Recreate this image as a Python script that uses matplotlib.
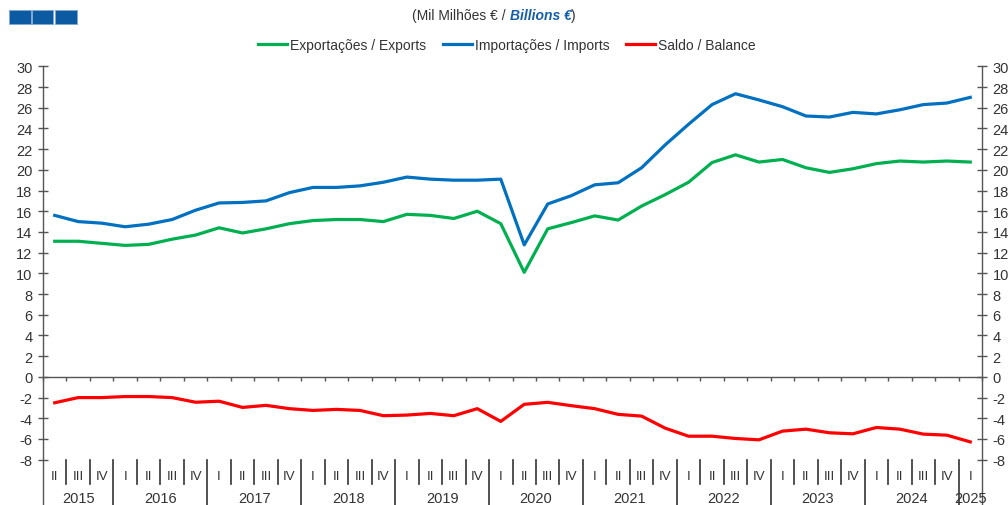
import numpy as np
import matplotlib
matplotlib.use("Agg")
import matplotlib.pyplot as plt
from matplotlib.lines import Line2D
from matplotlib.patches import Rectangle

plt.rcParams["font.family"] = ["Liberation Sans", "DejaVu Sans"]
plt.rcParams["axes.unicode_minus"] = False

# ── data ───────────────────────────────────────────────────────
QUARTERS = ["II", "III", "IV"] + ["I", "II", "III", "IV"] * 9 + ["I"]
YEARS = [str(y) for y in range(2015, 2026)]

exports = [13.1, 13.1, 12.9, 12.7, 12.8, 13.3, 13.7, 14.4, 13.9, 14.3,
           14.8, 15.1, 15.2, 15.2, 15.0, 15.7, 15.6, 15.3, 16.0, 14.8,
           10.1, 14.3, 14.9, 15.55, 15.15, 16.5, 17.6, 18.8, 20.7, 21.45,
           20.75, 21.0, 20.2, 19.75, 20.1, 20.6, 20.85, 20.75, 20.85, 20.75]
imports = [15.6, 15.0, 14.85, 14.5, 14.75, 15.2, 16.1, 16.8, 16.85, 17.0,
           17.8, 18.3, 18.3, 18.45, 18.8, 19.3, 19.1, 19.0, 19.0, 19.1,
           12.75, 16.7, 17.5, 18.55, 18.75, 20.2, 22.4, 24.4, 26.3, 27.35,
           26.75, 26.1, 25.2, 25.1, 25.55, 25.4, 25.8, 26.3, 26.45, 27.0]
balance = [-2.5, -2.0, -2.0, -1.9, -1.9, -2.0, -2.45, -2.35, -2.95, -2.75,
           -3.07, -3.24, -3.14, -3.24, -3.75, -3.69, -3.53, -3.75, -3.07, -4.3,
           -2.65, -2.46, -2.78, -3.07, -3.62, -3.79, -4.95, -5.73, -5.73, -5.95,
           -6.08, -5.24, -5.05, -5.4, -5.5, -4.89, -5.05, -5.53, -5.63, -6.28]

SERIES = [("Exportações / Exports", exports, "#00B050"),
          ("Importações / Imports", imports, "#0070C0"),
          ("Saldo / Balance", balance, "#FF0000")]

AXIS_C = "#555555"
TEXT_C = "#333333"

# ── figure ─────────────────────────────────────────────────────
W, H = 1008, 506
fig = plt.figure(figsize=(W / 100, H / 100), dpi=100)
fig.patch.set_facecolor("white")

ax_l, ax_r, ax_top, ax_bot = 43, 982, 67.3, 460.7
ax = fig.add_axes([ax_l / W, 1 - ax_bot / H, (ax_r - ax_l) / W, (ax_bot - ax_top) / H])

x = np.arange(len(QUARTERS))
for label, vals, col in SERIES:
    ax.plot(x, vals, color=col, lw=2.3, label=label)

ax.set_xlim(-0.5, len(QUARTERS) - 0.5)
ax.set_ylim(-8, 30)

ax.spines["top"].set_visible(False)
ax.spines["bottom"].set_position(("data", 0))
for s in ("bottom", "left", "right"):
    ax.spines[s].set_color(AXIS_C)
    ax.spines[s].set_linewidth(1.0)

ax.set_xticks(np.arange(-0.5, len(QUARTERS), 1))
ax.tick_params(axis="x", direction="out", length=3, width=1.0, color=AXIS_C,
               labelbottom=False)
ax.set_yticks(np.arange(-8, 31, 2))
ax.tick_params(axis="y", left=True, right=True, labelleft=True, labelright=True,
               direction="inout", length=7, width=1.0, color=AXIS_C,
               labelsize=10.5, labelcolor=TEXT_C, pad=4)

# ── quarter / year labels under the axes ───────────────────────
tr = ax.get_xaxis_transform()
h = ax_bot - ax_top
y_q_sep = -(485 - ax_bot) / h
y_bottom = -(H + 2 - ax_bot) / h
y_q_lab = -(477.5 - ax_bot) / h
y_y_lab = -(499 - ax_bot) / h

for xe in (-0.5, len(QUARTERS) - 0.5):
    ax.plot([xe, xe], [0, y_bottom], transform=tr, clip_on=False, color=AXIS_C, lw=1.0)

for i in range(len(QUARTERS) - 1):
    yb = y_bottom if QUARTERS[i + 1] == "I" else y_q_sep
    ax.plot([i + 0.5, i + 0.5], [0, yb], transform=tr, clip_on=False,
            color=TEXT_C, lw=1.2)

for i, q in enumerate(QUARTERS):
    ax.text(i, y_q_lab, q, transform=tr, ha="center", va="center",
            fontsize=9.5, color=TEXT_C)

start = 0
spans = []
for i, q in enumerate(QUARTERS):
    if q == "I" and i > 0:
        spans.append((start, i - 1))
        start = i
spans.append((start, len(QUARTERS) - 1))
for yr, (a, b) in zip(YEARS, spans):
    ax.text((a + b) / 2, y_y_lab, yr, transform=tr, ha="center", va="center",
            fontsize=10.5, color=TEXT_C)

# ── header ─────────────────────────────────────────────────────
for x0 in (9.3, 31.7, 55.0):
    fig.patches.append(Rectangle((x0 / W, 1 - 25 / H), 21.5 / W, 14 / H,
                                 transform=fig.transFigure, facecolor="#0B5AA2",
                                 edgecolor="#7fa8d4", lw=0.6))

renderer = fig.canvas.get_renderer()
parts = [("(Mil Milhões € / ", dict(color=TEXT_C)),
         ("Billions €", dict(color="#1560A8", fontweight="bold", fontstyle="italic")),
         (")", dict(color=TEXT_C))]
texts = [fig.text(0, 1 - 15.7 / H, s, fontsize=10, va="center", ha="left", **kw)
         for s, kw in parts]
widths = [t.get_window_extent(renderer).width for t in texts]
xcur = 494 - sum(widths) / 2
for t, w in zip(texts, widths):
    t.set_x(xcur / W)
    xcur += w

handles = [Line2D([], [], color=c, lw=2.3) for _, _, c in SERIES]
labels = [l for l, _, _ in SERIES]
fig.legend(handles, labels, loc="center", bbox_to_anchor=(507 / W, 1 - 46 / H),
           ncol=3, frameon=False, fontsize=10, handlelength=2.1,
           handletextpad=0.2, columnspacing=1.2, labelcolor=TEXT_C)

fig.savefig("out.png", dpi=100, facecolor="white")
